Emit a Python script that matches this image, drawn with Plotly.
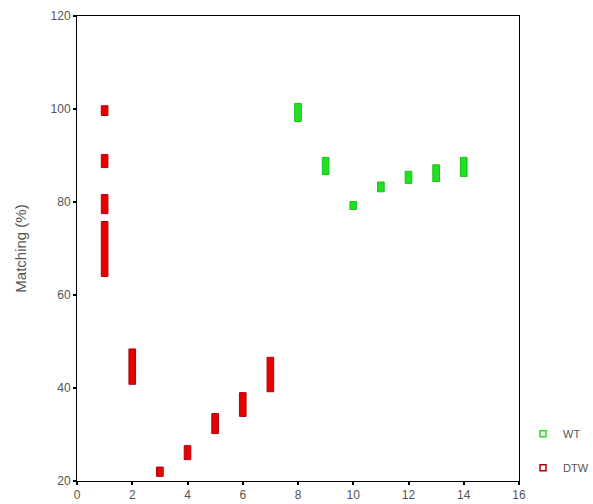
import plotly.graph_objects as go

# DTW: each column of stacked markers as (x, low, high)
dtw_x = [1, 1, 1, 1, 2, 3, 4, 5, 6, 7]
dtw_low = [98.6, 87.4, 77.5, 64.0, 40.8, 21.0, 24.6, 30.2, 33.9, 39.2]
dtw_high = [100.7, 90.2, 81.6, 75.8, 48.4, 23.0, 27.6, 34.5, 39.0, 46.6]

# WT
wt_x = [8, 9, 10, 11, 12, 13, 14]
wt_low = [97.3, 85.9, 78.4, 82.2, 84.0, 84.4, 85.5]
wt_high = [101.2, 89.6, 80.1, 84.3, 86.6, 88.0, 89.6]

x_ticks = [0, 2, 4, 6, 8, 10, 12, 14, 16]
y_ticks = [20, 40, 60, 80, 100, 120]

RED = "#e60000"
RED_LINE = "#b00010"
GREEN = "#22e022"
GREEN_LINE = "#18c018"

fig = go.Figure()

fig.add_trace(go.Bar(
    x=dtw_x, base=dtw_low, y=[h - l for h, l in zip(dtw_high, dtw_low)],
    width=0.24, marker=dict(color=RED, line=dict(color=RED_LINE, width=1)),
    showlegend=False, hoverinfo="skip"))
fig.add_trace(go.Bar(
    x=wt_x, base=wt_low, y=[h - l for h, l in zip(wt_high, wt_low)],
    width=0.24, marker=dict(color=GREEN, line=dict(color=GREEN_LINE, width=1)),
    showlegend=False, hoverinfo="skip"))

# legend entries
fig.add_trace(go.Scatter(x=[None], y=[None], mode="markers", name="WT",
                         legendgroup="wt",
                         marker=dict(symbol="square-open", size=6, color=GREEN,
                                     line=dict(width=1.5))))
fig.add_trace(go.Scatter(x=[None], y=[None], mode="markers", name="DTW",
                         legendgroup="dtw",
                         marker=dict(symbol="square-open", size=6, color=RED_LINE,
                                     line=dict(width=1.5))))

axis_common = dict(
    showline=True, linecolor="black", linewidth=1, mirror=True,
    ticks="outside", ticklen=3, tickwidth=2, tickcolor="black",
    showgrid=False, zeroline=False, automargin=False,
    tickfont=dict(family="Liberation Sans, Arial", size=12, color="#555"),
)

fig.update_layout(
    width=593, height=504,
    margin=dict(l=77, r=74, t=16, b=23),
    plot_bgcolor="white", paper_bgcolor="white",
    barmode="overlay",
    font=dict(family="Liberation Sans, Arial", color="#555"),
    xaxis=dict(range=[0, 16], tickvals=x_ticks, **axis_common),
    yaxis=dict(range=[20, 120], tickvals=y_ticks,
               title=dict(text="Matching (%)", font=dict(size=15, color="#555"), standoff=20),
               **axis_common),
    legend=dict(xref="container", yref="container",
                x=0.882, xanchor="left", y=0.043, yanchor="bottom",
                traceorder="grouped", tracegroupgap=15,
                font=dict(size=11, color="#555"), itemwidth=30,
                bgcolor="rgba(0,0,0,0)"),
)

fig.write_html("out.html", config={"displayModeBar": False},
               post_script="document.body.style.margin='0';document.body.style.overflow='hidden';")
